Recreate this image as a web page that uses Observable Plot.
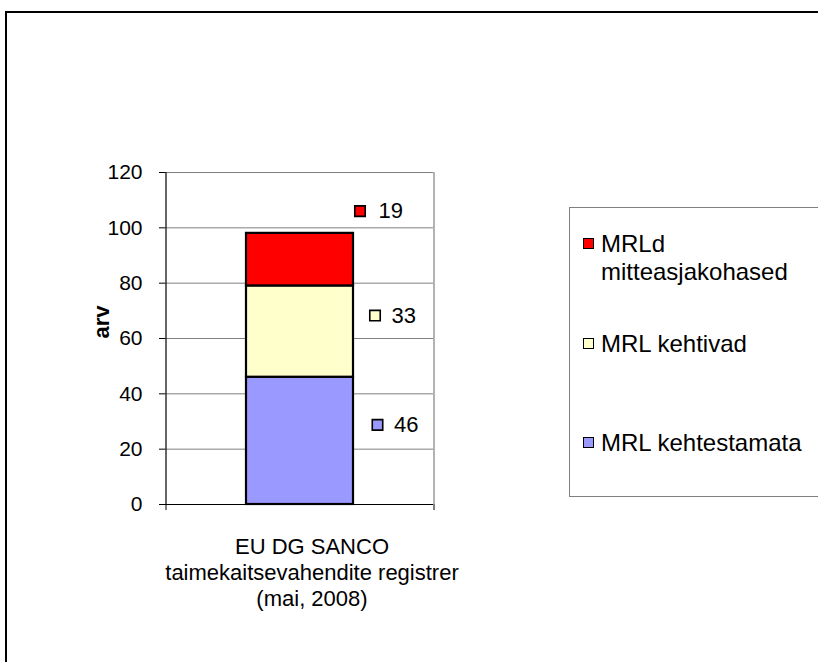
<!DOCTYPE html>
<html>
<head>
<meta charset="utf-8">
<script src="https://cdn.jsdelivr.net/npm/d3@7"></script>
<script src="https://cdn.jsdelivr.net/npm/@observablehq/plot@0.6"></script>
<style>
  html, body { margin: 0; padding: 0; background: #fff; }
  #wrap { position: relative; width: 818px; height: 662px; overflow: hidden; font-family: "Liberation Sans", Arial, sans-serif; }
  #outer { position: absolute; left: 5px; top: 11px; width: 1000px; height: 1000px; border-left: 2px solid #000; border-top: 2px solid #000; box-sizing: border-box; }
  #chart { position: absolute; left: 0; top: 0; }
  #legend { position: absolute; left: 569px; top: 207px; width: 400px; height: 290px; border: 1px solid #808080; box-sizing: border-box; background: #fff; }
  .item { position: absolute; left: 13px; display: flex; align-items: flex-start; font-size: 24px; line-height: 28px; color: #000; }
  .key { width: 9px; height: 9px; border: 1.5px solid #000; margin-top: 8px; margin-right: 7px; flex: none; }
  .lab { width: 212px; }
</style>
</head>
<body>
<div id="wrap">
  <div id="outer"></div>
  <div id="chart"></div>
  <div id="legend"></div>
</div>
<script>
// ---- data ----
const category = "EU DG SANCO\ntaimekaitsevahendite registrer\n(mai, 2008)";
const seriesNames = ["MRL kehtestamata", "MRL kehtivad", "MRLd mitteasjakohased"];
const seriesValues = [46, 33, 19];
const seriesColors = ["#9999FF", "#FFFFCC", "#FF0000"];
const yTicks = [0, 20, 40, 60, 80, 100, 120];
const yLabel = "arv";

// ---- styling / layout ----
const FS = 22, TICK_FS = 21;
const W = 818, H = 662;
const mL = 165, mR = W - 433, mT = 172, mB = H - 504;
const halfFrame = (W - mL - mR) / 2;
// per-label offsets (px) from segment midpoint / band centre: [squareDx, textDx, dy]
const labelOffsets = [[77.5, 94, -16], [75, 91.5, -16], [60, 78.5, -48.5]];
const legendTops = [22, 122, 221];

const rows = seriesNames.map((s, i) => ({cat: category, series: s, value: seriesValues[i], color: seriesColors[i]}));
const ends = d3.cumsum(seriesValues);
rows.forEach((r, i) => { r.mid = ends[i] - r.value / 2; });

const labelMarks = rows.flatMap((r, i) => [
  Plot.dot([r], {x: "cat", y: "mid", dx: labelOffsets[i][0], dy: labelOffsets[i][2], symbol: "square", r: 5.9, fill: "color", stroke: "#000", strokeWidth: 1.6}),
  Plot.text([r], {x: "cat", y: "mid", text: d => String(d.value), dx: labelOffsets[i][1], dy: labelOffsets[i][2], textAnchor: "start", fontSize: FS, fill: "#000"})
]);

const chart = Plot.plot({
  width: W, height: H,
  marginLeft: mL, marginRight: mR, marginTop: mT, marginBottom: mB,
  style: {fontFamily: "'Liberation Sans', Arial, sans-serif", fontSize: FS + "px", background: "transparent", color: "#000"},
  x: {domain: [category], padding: 0.4293, axis: null},
  y: {domain: [0, 120], axis: null},
  color: {type: "identity"},
  marks: [
    Plot.ruleY(yTicks.filter(t => t > 0), {stroke: "#808080", strokeWidth: 1}),
    Plot.ruleX([category], {x: d => d, y1: 0, y2: 120, dx: halfFrame, stroke: "#808080", strokeWidth: 1.2}),
    Plot.barY(rows, {x: "cat", y: "value", fill: "color", stroke: "#000", strokeWidth: 2.2}),
    Plot.ruleY([0], {stroke: "#000", strokeWidth: 1.2}),
    Plot.ruleX([category], {x: d => d, y1: 0, y2: 120, dx: -halfFrame, stroke: "#000", strokeWidth: 1.2}),
    Plot.ruleX([category], {x: d => d, y1: 0, y2: -2.2, dx: -halfFrame, stroke: "#000", strokeWidth: 1}),
    Plot.ruleX([category], {x: d => d, y1: 0, y2: -2.2, dx: halfFrame, stroke: "#000", strokeWidth: 1}),
    Plot.axisY({ticks: yTicks, tickSize: 6, tickPadding: 17, fontSize: TICK_FS, stroke: "#000", fill: "#000", label: null}),
    Plot.text([yLabel], {frameAnchor: "left", dx: -64, rotate: -90, text: d => d, fontWeight: "bold", fontSize: FS, fill: "#000"}),
    Plot.text([category], {x: d => d, y: 0, dy: 67, dx: 12, text: d => d, lineAnchor: "middle", lineHeight: 26 / FS, fontSize: FS, fill: "#000"}),
    ...labelMarks
  ]
});
document.getElementById("chart").appendChild(chart);

// legend (top to bottom: reversed series order)
const legend = document.getElementById("legend");
const order = d3.range(seriesNames.length).reverse();
order.forEach((i, k) => {
  const item = document.createElement("div");
  item.className = "item";
  item.style.top = legendTops[k] + "px";
  const key = document.createElement("div");
  key.className = "key";
  key.style.background = seriesColors[i];
  const lab = document.createElement("div");
  lab.className = "lab";
  lab.textContent = seriesNames[i];
  item.appendChild(key);
  item.appendChild(lab);
  legend.appendChild(item);
});
</script>
</body>
</html>
